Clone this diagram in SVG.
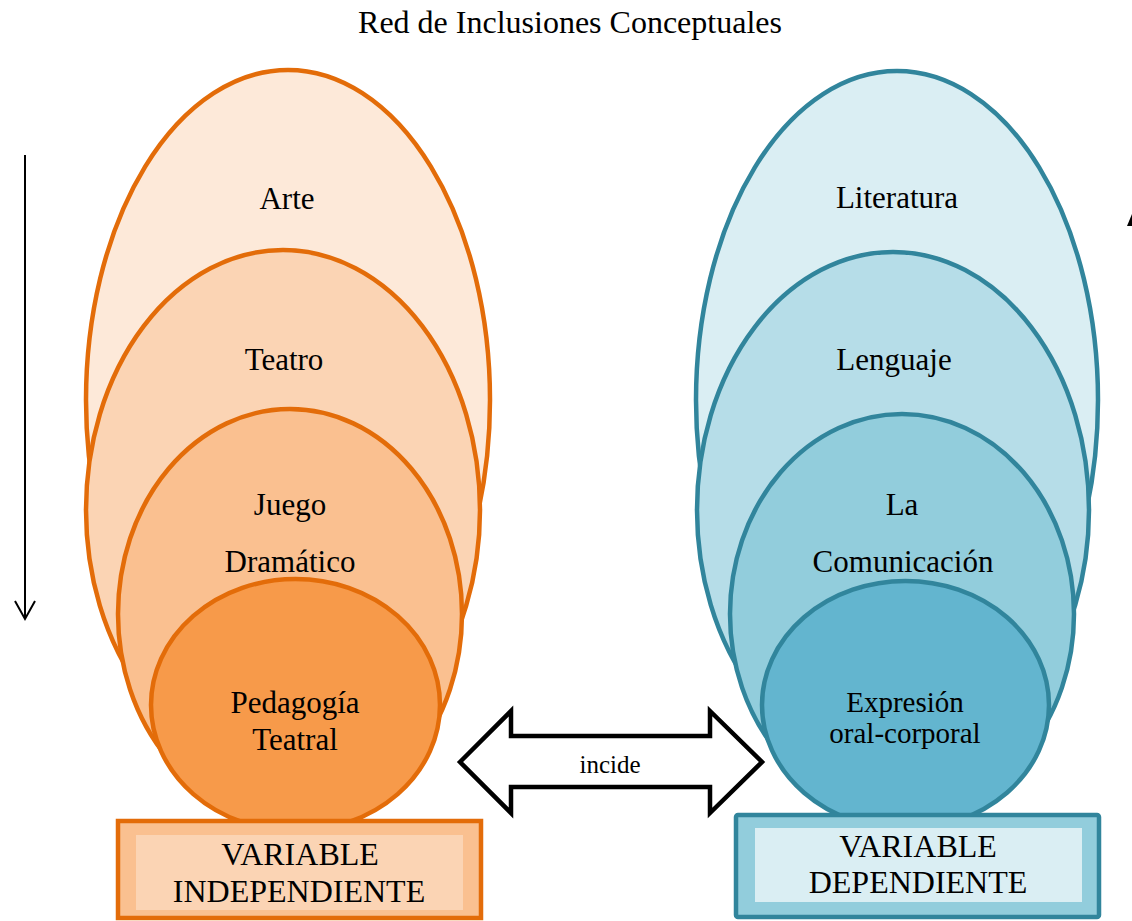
<svg xmlns="http://www.w3.org/2000/svg" width="1132" height="921" viewBox="0 0 1132 921">
<style>
text{font-family:"Liberation Serif","Times New Roman",serif;fill:#000;text-anchor:middle}
.o{stroke:#E36C09;stroke-width:4.5}
.b{stroke:#31859C;stroke-width:4.5}
.lbl{font-size:31px}
.sm{font-size:29px}
.vb{font-size:32px}
</style>
<rect width="1132" height="921" fill="#fff"/>
<text x="570" y="33" style="font-size:32px">Red de Inclusiones Conceptuales</text>

<g id="arte"><ellipse class="o" cx="288" cy="400" rx="202" ry="330" fill="#FDE9D9"/><text class="lbl" x="287" y="209">Arte</text></g>
<g id="teatro"><ellipse class="o" cx="283" cy="510" rx="197" ry="260" fill="#FBD4B4"/><text class="lbl" x="284" y="370">Teatro</text></g>
<g id="juego"><ellipse class="o" cx="290" cy="614" rx="172" ry="205" fill="#FAC090"/><text class="lbl" x="290" y="515">Juego</text><text class="lbl" x="290" y="572">Dramático</text></g>
<g id="pedagogia"><ellipse class="o" cx="295.5" cy="705" rx="144.5" ry="126" fill="#F79A4A"/><text class="lbl" x="295" y="713">Pedagogía</text><text class="lbl" x="295" y="750">Teatral</text></g>
<g id="vi"><rect x="118" y="821" width="363" height="97" fill="#FAC090" stroke="#E36C09" stroke-width="4.5"/><rect x="136" y="835" width="327" height="75" fill="#FBD4B4"/><text class="vb" x="300" y="865">VARIABLE</text><text class="vb" x="299" y="902">INDEPENDIENTE</text></g>

<g id="literatura"><ellipse class="b" cx="897" cy="400" rx="201" ry="329" fill="#DAEEF3"/><text class="lbl" x="897" y="208">Literatura</text></g>
<g id="lenguaje"><ellipse class="b" cx="893" cy="510" rx="196" ry="258" fill="#B6DDE8"/><text class="lbl" x="894" y="370">Lenguaje</text></g>
<g id="comunicacion"><ellipse class="b" cx="902" cy="614" rx="172" ry="200" fill="#92CDDC"/><text class="lbl" x="902" y="515">La</text><text class="lbl" x="903" y="572">Comunicación</text></g>
<g id="expresion"><ellipse class="b" cx="905.5" cy="705" rx="143.5" ry="124" fill="#63B5CF"/><text class="sm" x="905" y="712">Expresión</text><text class="sm" x="905" y="743">oral-corporal</text></g>
<g id="vd"><rect x="736" y="815" width="363" height="102" rx="2" fill="#92CDDC" stroke="#31859C" stroke-width="4.5"/><rect x="755" y="828" width="327" height="74" fill="#DAEEF3"/><text class="vb" x="918" y="857">VARIABLE</text><text class="vb" x="918" y="893">DEPENDIENTE</text></g>

<g id="connectors">
<path d="M460,762 L511,711 L511,736 L710,736 L710,711 L762,762 L710,813 L710,787 L511,787 L511,813 Z" fill="#fff" stroke="#000" stroke-width="4.5" stroke-linejoin="miter"/>
<text x="610" y="773" style="font-size:25px">incide</text>
<line x1="25" y1="155" x2="25" y2="619" stroke="#000" stroke-width="2"/>
<polyline points="15,601 25,619 35,601" fill="none" stroke="#000" stroke-width="2"/>
<polygon points="1127,226 1132,214 1132,226" fill="#000"/>
</g>
</svg>
